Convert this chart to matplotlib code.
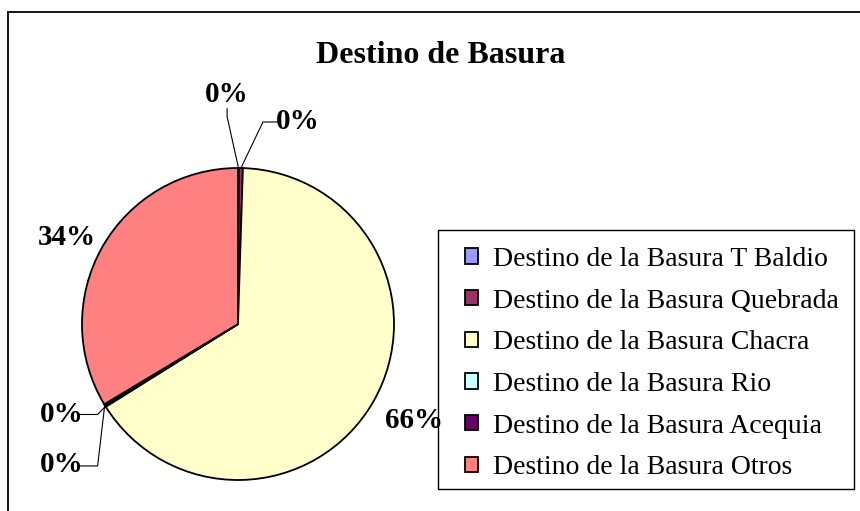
import numpy as np
import matplotlib.pyplot as plt
from matplotlib.patches import Rectangle

# datos: destino de la basura (porcentaje de hogares)
categorias = ["Destino de la Basura T Baldio", "Destino de la Basura Quebrada",
              "Destino de la Basura Chacra", "Destino de la Basura Rio",
              "Destino de la Basura Acequia", "Destino de la Basura Otros"]
valores = [0.1, 0.4, 65.6, 0.1, 0.2, 33.6]
colores = ["#9999FF", "#993366", "#FFFFCC", "#CCFFFF", "#660066", "#FF8080"]

# posiciones de las etiquetas pequeñas (0%) y su codo de guia, en radios
etiq_peq = {0: ((-0.07, 1.47), (-0.07, 1.33), "center"),
            1: ((0.24, 1.295), (0.16, 1.295), "left"),
            3: ((-0.99, -0.58), (-0.90, -0.58), "right"),
            4: ((-0.99, -0.90), (-0.90, -0.91), "right")}

W, H = 860, 511
cx, cy, R = 238, 324, 156

fig = plt.figure(figsize=(W / 100, H / 100), dpi=100)
# marco del area del grafico
fig.patches.append(Rectangle((8 / W, -0.1), 1.2, 1 - 12 / H + 0.1,
                             transform=fig.transFigure, fill=False,
                             edgecolor="black", linewidth=1.3, zorder=-1))
# marco de la leyenda
fig.patches.append(Rectangle((438 / W, 1 - 489 / H), 416 / W, 259 / H,
                             transform=fig.transFigure, fill=True, facecolor="white",
                             edgecolor="black", linewidth=1.0, zorder=-1))

ax = fig.add_axes([0, 0, 1, 1])
ax.patch.set_alpha(0)
wedges, _ = ax.pie(valores, colors=colores, startangle=90, counterclock=False,
                   wedgeprops=dict(edgecolor="black", linewidth=1.3))
ax.set_xlim(-cx / R, (W - cx) / R)
ax.set_ylim((cy - H) / R, cy / R)
ax.set_aspect("auto")
ax.axis("off")

fuente = dict(family="Liberation Serif", fontweight="bold", fontsize=21)
total = sum(valores)
for i, (w, v) in enumerate(zip(wedges, valores)):
    txt = f"{round(100 * v / total):.0f}%"
    ang = np.deg2rad((w.theta1 + w.theta2) / 2)
    borde = (np.cos(ang), np.sin(ang))
    if i in etiq_peq:
        pos, codo, ha = etiq_peq[i]
        ax.plot([borde[0], codo[0], pos[0] + (0.03 if ha == "left" else -0.03 if ha == "right" else 0)],
                [borde[1], codo[1], codo[1] if ha != "center" else pos[1] - 0.09],
                color="black", linewidth=0.8)
        ax.text(pos[0], pos[1], txt, ha=ha, va="center", **fuente)
    else:
        r = 1.09 if borde[0] > 0 else 1.05
        ha = "left" if borde[0] > 0 else "right"
        dy = -0.075 if borde[1] < 0 else 0.04
        ax.text(r * borde[0], r * borde[1] + dy, txt, ha=ha, va="center", **fuente)

fig.text(441 / W, 1 - 55 / H, "Destino de Basura", ha="center", va="center",
         family="Liberation Serif", fontweight="bold", fontsize=23)

leg = ax.legend(wedges, categorias, loc="upper left",
                bbox_to_anchor=(465 / W, 1 - 247 / H), bbox_transform=fig.transFigure,
                prop=dict(family="Liberation Serif", size=20),
                frameon=False, handlelength=0.47, handleheight=0.47, handletextpad=0.53,
                labelspacing=0.6, borderpad=0, borderaxespad=0)

fig.savefig("out.png", dpi=100)
